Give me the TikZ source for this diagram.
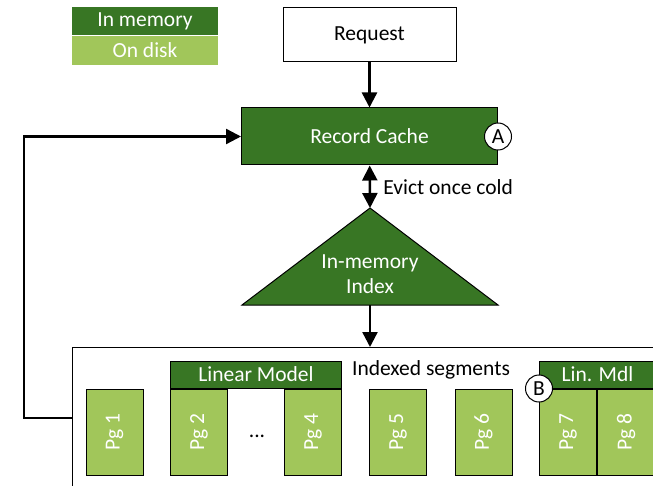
\documentclass[tikz,border=0pt]{standalone}
\usepackage{fontspec}
\setmainfont{Carlito}
\usetikzlibrary{arrows.meta, positioning, calc}

\definecolor{memgreen}{RGB}{56,118,36}
\definecolor{diskgreen}{RGB}{161,198,90}

\begin{document}
\begin{tikzpicture}[
x=1pt, y=-1pt,
font=\fontsize{21.5}{25}\selectfont,
box_node/.style={rectangle, draw, line width=1pt, inner sep=0pt},
mem_node/.style={box_node, fill=memgreen, text=white},
disk_node/.style={box_node, fill=diskgreen, text=white},
page_node/.style={disk_node, minimum width=57, minimum height=86},
mark_node/.style={circle, draw, fill=white, line width=1pt, minimum size=27, inner sep=0pt},
tip/.tip={Triangle[width=15pt, length=15pt]},
flow/.style={line width=2.4pt, -tip}
]
\useasboundingbox (0,0) rectangle (653,486);

% Legend
\node[mem_node, draw=none, minimum width=146, minimum height=28] (leg_mem) at (145,21) {In memory};
\node[disk_node, draw=none, minimum width=146, minimum height=29] (leg_disk) [below=0pt of leg_mem] {On disk};

% Request path
\node[box_node, minimum width=173, minimum height=54] (req) at (369.5,35) {Request};
\node[mem_node, minimum width=256, minimum height=57] (cache) [below=45pt of req] {Record Cache};
\node[mark_node] (mark_a) at (cache.east) {A};

% Index (triangle)
\coordinate (idx_top) at (370,208);
\coordinate (idx_base) at (370,305);
\filldraw[fill=memgreen, line width=1pt] (idx_top) -- (498,305) -- (242,305) -- cycle;
\node[text=white, align=center] (idx) at (370,274) {In-memory\\Index};

% Segments
\node[box_node, fill=white, anchor=north west, minimum width=640, minimum height=190] (segs) at (72,347) {};
\node (seg_lbl) at (431,370) {Indexed segments};

\foreach \n/\x in {1/114.5, 2/199, 4/313, 5/398, 6/483.5, 7/568, 8/626}
  \node[page_node] (pg\n) at (\x,432) {\rotatebox{90}{Pg \n}};

\node[mem_node, minimum width=171, minimum height=27, anchor=south west] (lin_a) at (pg2.north west) {Linear Model};
\node[mem_node, minimum width=116, minimum height=27, anchor=south west] (lin_b) at (pg7.north west) {Lin. Mdl};
\node (dots) at (257,436) {...};
\node[mark_node] (mark_b) at (pg7.north west) {B};

% Edges
\coordinate (fb) at (72,418);
\draw[flow] (req) -- (cache);
\draw[flow, tip-tip] (cache) -- (idx_top)
  node[midway, right=9pt] {Evict once cold};
\draw[flow] (idx_base) -- (idx_base |- segs.north);
\draw[flow] (fb) -- ++(-48,0) |- (cache.west);
\end{tikzpicture}
\end{document}
